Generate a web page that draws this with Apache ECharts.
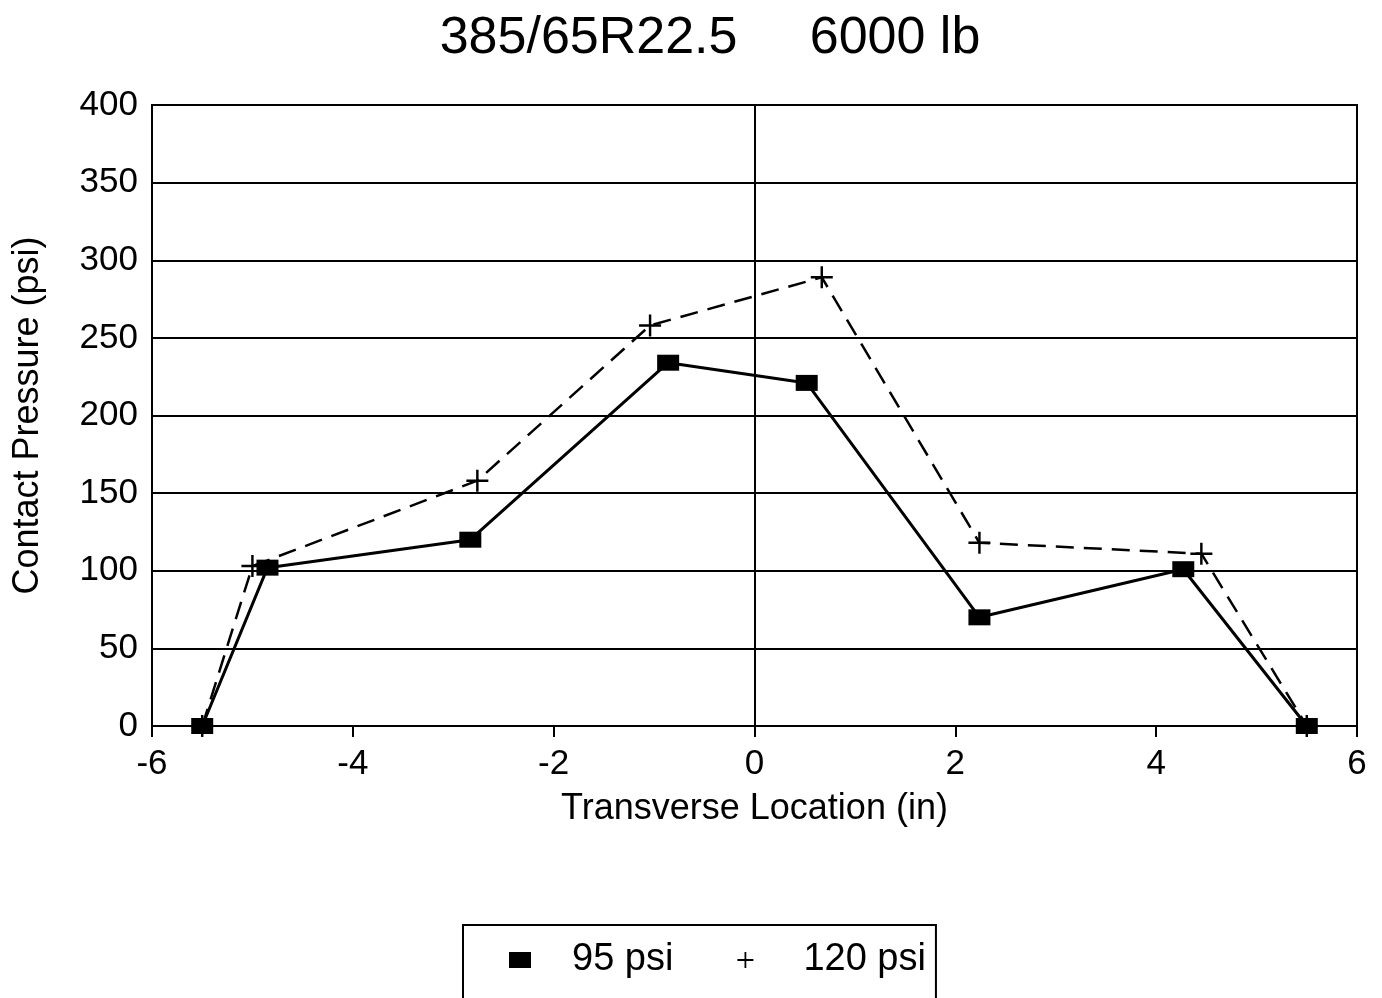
<!DOCTYPE html>
<html>
<head>
<meta charset="utf-8">
<title>385/65R22.5 6000 lb</title>
<script src="https://cdn.jsdelivr.net/npm/echarts@6/dist/echarts.min.js"></script>
<style>
  html, body { margin: 0; padding: 0; background: #fff; }
  #chart { width: 1382px; height: 998px; }
</style>
</head>
<body>
<div id="chart"></div>
<script>
// Transverse contact pressure profile, two inflation pressures
const seriesNames = ['95 psi', '120 psi'];
const x95 = [-5.5, -4.85, -2.83, -0.86, 0.52, 2.24, 4.27, 5.5];
const y95 = [0, 102, 120, 234, 221, 70, 101, 0];
const x120 = [-5.5, -5.0, -2.76, -1.04, 0.67, 2.24, 4.45, 5.5];
const y120 = [0, 103, 158, 258, 289, 118, 111, 0];
const xTicks = [-6, -4, -2, 0, 2, 4, 6];
const yTicks = [0, 50, 100, 150, 200, 250, 300, 350, 400];

const FONT = '"Liberation Sans", Arial, Helvetica, sans-serif';
const PLUS = 'path://M10,0h2.5v10h10v2.5h-10v10h-2.5v-10h-10v-2.5h10z';

const pairs = (xs, ys) => xs.map((x, i) => [x, ys[i]]);

const chart = echarts.init(document.getElementById('chart'), null, { renderer: 'canvas' });

chart.setOption({
  animation: false,
  backgroundColor: '#ffffff',
  title: {
    text: '385/65R22.5     6000 lb',
    left: 705,
    top: 8,
    textAlign: 'center',
    textStyle: { fontFamily: FONT, fontSize: 52, fontWeight: 'normal', color: '#000' }
  },
  grid: {
    left: 152, right: 25, top: 105, bottom: 272,
    show: true, borderColor: '#000', borderWidth: 2,
    outerBoundsMode: 'none'
  },
  legend: {
    left: 463,
    top: 925,
    orient: 'horizontal',
    padding: [16, 10, 60, 46],
    borderColor: '#000',
    borderWidth: 2,
    itemWidth: 22,
    itemHeight: 16,
    itemGap: 64,
    textStyle: { fontFamily: FONT, fontSize: 38, color: '#000' },
    data: [
      { name: seriesNames[0], icon: 'rect', textStyle: { padding: [0, 0, 0, 36] } },
      { name: seriesNames[1], icon: PLUS, textStyle: { padding: [0, 0, 0, 42] } }
    ]
  },
  xAxis: {
    type: 'value',
    min: xTicks[0],
    max: xTicks[xTicks.length - 1],
    interval: 2,
    name: 'Transverse Location (in)',
    nameLocation: 'middle',
    nameGap: 65,
    nameTextStyle: { fontFamily: FONT, fontSize: 36, color: '#000' },
    axisLine: { show: true, onZero: false, lineStyle: { color: '#000', width: 2 } },
    axisTick: { show: true, inside: false, length: 11, lineStyle: { color: '#000', width: 2 } },
    axisLabel: { fontFamily: FONT, fontSize: 35, color: '#000', margin: 21 },
    splitLine: { show: false }
  },
  yAxis: {
    type: 'value',
    min: yTicks[0],
    max: yTicks[yTicks.length - 1],
    interval: 50,
    name: 'Contact Pressure (psi)',
    nameLocation: 'middle',
    nameGap: 106,
    nameTextStyle: { fontFamily: FONT, fontSize: 36, color: '#000' },
    axisLine: { show: true, lineStyle: { color: '#000', width: 2 } },
    axisTick: { show: true, inside: false, length: 9, lineStyle: { color: '#000', width: 2 } },
    axisLabel: { fontFamily: FONT, fontSize: 35, color: '#000', margin: 14 },
    splitLine: { show: true, lineStyle: { color: '#000', width: 2 } }
  },
  series: [
    {
      name: seriesNames[1],
      type: 'line',
      data: pairs(x120, y120),
      symbol: PLUS,
      symbolSize: 22,
      showAllSymbol: true,
      itemStyle: { color: '#000' },
      lineStyle: { color: '#000', width: 2.5, type: [18, 10] },
      z: 3,
      markLine: {
        silent: true,
        symbol: 'none',
        label: { show: false },
        lineStyle: { color: '#000', width: 2, type: 'solid' },
        data: [{ xAxis: 0 }]
      }
    },
    {
      name: seriesNames[0],
      type: 'line',
      data: pairs(x95, y95),
      symbol: 'rect',
      symbolSize: [22, 16],
      showAllSymbol: true,
      itemStyle: { color: '#000' },
      lineStyle: { color: '#000', width: 3, type: 'solid' },
      z: 4
    }
  ]
});
</script>
</body>
</html>
